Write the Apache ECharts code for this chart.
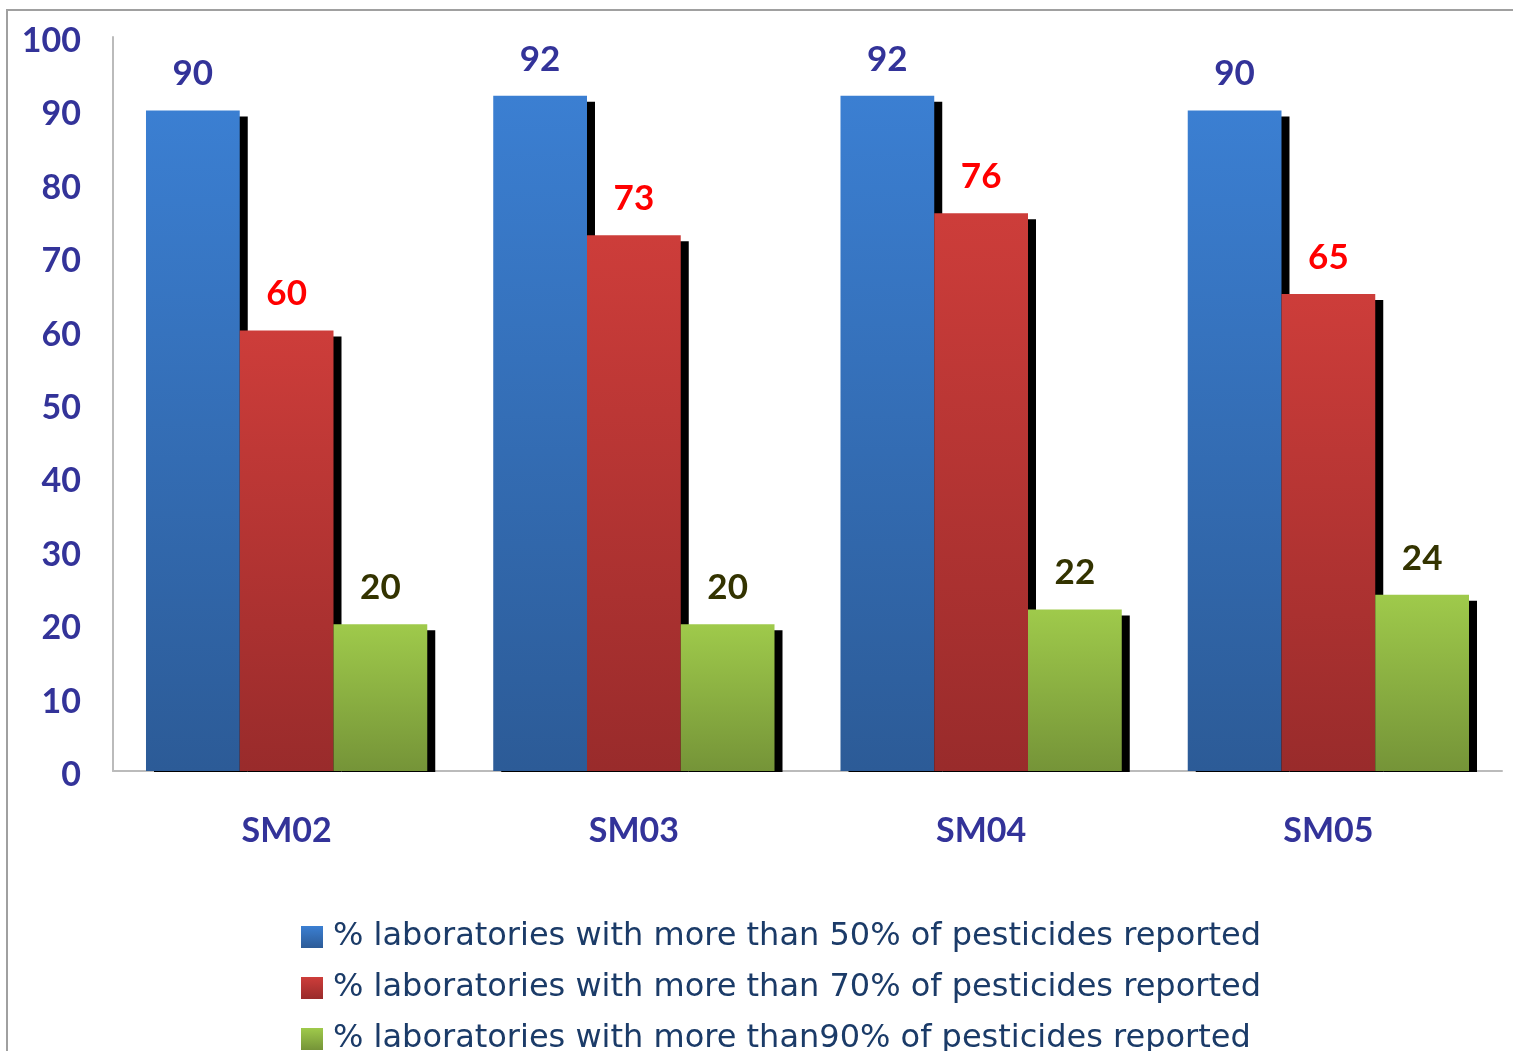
<!DOCTYPE html>
<html>
<head>
<meta charset="utf-8">
<script src="https://cdn.jsdelivr.net/npm/echarts@6/dist/echarts.min.js"></script>
<style>
  html, body { margin: 0; padding: 0; background: #fff; }
  #chart { width: 1513px; height: 1051px; }
</style>
</head>
<body>
<div id="chart"></div>
<script>
// data
let categories = ['SM02', 'SM03', 'SM04', 'SM05'];
let seriesNames = [
    '% laboratories with more than 50% of pesticides reported',
    '% laboratories with more than 70% of pesticides reported',
    '% laboratories with more than90% of pesticides reported'
];
let over50 = [90, 92, 92, 90];
let over70 = [60, 73, 76, 65];
let over90 = [20, 20, 22, 24];
let yTicks = [0, 10, 20, 30, 40, 50, 60, 70, 80, 90, 100];

let FONT = 'Lato';
let grad = function(top, bottom){
    return new echarts.graphic.LinearGradient(0, 0, 0, 1, [
        {offset: 0, color: top},
        {offset: 1, color: bottom}
    ]);
};

let makeBar = function(name, data, top, bottom, labelColor){
    return {
        name: name,
        type: 'bar',
        data: data,
        barGap: '0%',
        barCategoryGap: '19%',
        itemStyle: {
            color: grad(top, bottom),
            shadowColor: '#000',
            shadowBlur: 0,
            shadowOffsetX: 8,
            shadowOffsetY: 6
        },
        label: {
            show: true,
            position: 'top',
            distance: 19,
            color: labelColor,
            fontFamily: FONT,
            fontWeight: 'bold',
            fontSize: 35
        }
    };
};

let myChart = echarts.init(document.getElementById('chart'), null, {renderer: 'canvas'});
let option = {
    animation: false,
    backgroundColor: '#fff',
    grid: {left: 113, right: 11, top: 37, bottom: 280},
    legend: {
        orient: 'vertical',
        left: 296,
        top: 916,
        height: 135,
        itemWidth: 22,
        itemHeight: 22,
        itemGap: 19,
        icon: 'rect',
        textStyle: {color: '#1b3b68', fontFamily: 'DejaVu Sans', fontSize: 32, lineHeight: 31, padding: [0, 0, 0, 5]},
        data: seriesNames
    },
    xAxis: {
        type: 'category',
        data: categories,
        axisLine: {lineStyle: {color: '#bbbbbb', width: 2}},
        axisTick: {show: false},
        axisLabel: {
            margin: 43,
            color: '#333399',
            fontFamily: FONT,
            fontWeight: 'bold',
            fontSize: 34
        }
    },
    yAxis: {
        type: 'value',
        min: yTicks[0],
        max: yTicks[yTicks.length - 1],
        interval: 10,
        splitLine: {show: false},
        axisLine: {show: true, lineStyle: {color: '#bbbbbb', width: 2}},
        axisTick: {show: false},
        axisLabel: {
            margin: 32,
            formatter: '{v|{value}}',
            rich: {
                v: {
                    padding: [8, 0, 0, 0],
                    color: '#333399',
                    fontFamily: FONT,
                    fontWeight: 'bold',
                    fontSize: 34
                }
            }
        }
    },
    series: [
        makeBar(seriesNames[0], over50, '#3b7fd2', '#2c5b97', '#333399'),
        makeBar(seriesNames[1], over70, '#cd3d3a', '#992b2b', '#ff0000'),
        makeBar(seriesNames[2], over90, '#9fca4b', '#759438', '#333300')
    ],
    graphic: [
        {   // hide the shadow part that falls below the axis
            type: 'rect', z: 100,
            shape: {x: 114, y: 772, width: 1390, height: 9},
            style: {fill: '#fff'}
        },
        {   // chart border, cut by the picture edge
            type: 'rect', z: 100,
            shape: {x: 7, y: 10, width: 1560, height: 1100},
            style: {fill: 'none', stroke: '#a0a0a0', lineWidth: 2}
        }
    ]
};
myChart.setOption(option);
</script>
</body>
</html>
